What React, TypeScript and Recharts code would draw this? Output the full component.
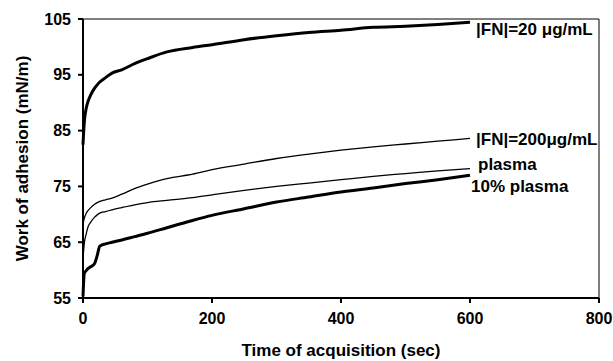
import React from "react";
import {
  LineChart,
  Line,
  XAxis,
  YAxis,
  ReferenceLine,
} from "recharts";

// time of acquisition (sec)
const times = [0, 2, 5, 8, 12, 18, 22, 26, 35, 45, 60, 80, 100, 130, 170, 200, 250, 300, 350, 400, 450, 500, 550, 600];

// work of adhesion (mN/m) for each solution
const fn20 = [82.5, 86.5, 89, 90.3, 91.4, 92.6, 93.2, 93.7, 94.5, 95.3, 95.9, 97, 97.9, 99.1, 99.9, 100.4, 101.3, 102.0, 102.6, 103.0, 103.5, 103.7, 104.0, 104.4];
const fn200 = [68.3, 69.3, 70.2, 70.7, 71.2, 71.8, 72.1, 72.3, 72.6, 72.9, 73.6, 74.6, 75.4, 76.4, 77.2, 78.0, 79.0, 80.0, 80.8, 81.5, 82.1, 82.6, 83.1, 83.6];
const plasma = [62, 64.8, 66.5, 67.8, 68.6, 69.5, 69.9, 70.2, 70.5, 70.8, 71.2, 71.7, 72.1, 72.5, 73.0, 73.5, 74.3, 75.0, 75.6, 76.2, 76.8, 77.3, 77.8, 78.2];
const plasma10 = [55.3, 59.4, 59.9, 60.3, 60.6, 61.2, 62.6, 64.3, 64.7, 65.0, 65.4, 66.0, 66.6, 67.6, 68.9, 69.8, 71.0, 72.2, 73.1, 74.0, 74.7, 75.5, 76.2, 77.0];

const seriesNames = ["|FN|=20 \u03bcg/mL", "|FN|=200\u03bcg/mL", "plasma", "10% plasma"];

const xTicks = [0, 200, 400, 600, 800];
const yTicks = [55, 65, 75, 85, 95, 105];

const data = times.map((t, i) => ({
  t,
  fn20: fn20[i],
  fn200: fn200[i],
  plasma: plasma[i],
  plasma10: plasma10[i],
}));

const font = "'Liberation Sans', Arial, sans-serif";
const last = times.length - 1;

// label drawn to the right of the final point of a line
const endLabel = (text: string, dx: number, dy: number) => (props: any) => {
  if (props.index !== last) return null;
  return (
    <text
      x={props.x + dx}
      y={props.y + dy}
      fontFamily={font}
      fontWeight="bold"
      fontSize={17}
      fill="#000"
      dominantBaseline="middle"
    >
      {text}
    </text>
  );
};

const App = () => {
  return (
    <div style={{ position: "absolute", left: 0, top: 0, background: "#fff" }}>
      <LineChart
        width={613}
        height={361}
        data={data}
        margin={{ top: 19, right: 14, left: 0, bottom: 0 }}
      >
        <XAxis
          dataKey="t"
          type="number"
          domain={[0, 800]}
          ticks={xTicks}
          height={63}
          stroke="#000"
          strokeWidth={2}
          tickSize={5}
          tickMargin={10}
          tick={{ fill: "#000", fontSize: 16, fontWeight: "bold", fontFamily: font }}
          label={{
            value: "Time of acquisition (sec)",
            position: "insideBottom",
            offset: 5,
            style: { fill: "#000", fontSize: 17, fontWeight: "bold", fontFamily: font },
          }}
        />
        <YAxis
          type="number"
          domain={[55, 105]}
          ticks={yTicks}
          width={83}
          stroke="#000"
          strokeWidth={2}
          tickSize={5}
          tickMargin={7}
          tick={{ fill: "#000", fontSize: 16, fontWeight: "bold", fontFamily: font }}
          label={{
            value: "Work of adhesion (mN/m)",
            angle: -90,
            position: "insideLeft",
            offset: 22,
            style: { fill: "#000", fontSize: 17, fontWeight: "bold", fontFamily: font, textAnchor: "middle" },
          }}
        />
        <ReferenceLine y={105} stroke="#000" strokeWidth={1} />
        <ReferenceLine x={800} stroke="#000" strokeWidth={1} />
        <Line
          type="monotone"
          dataKey="fn20"
          stroke="#000"
          strokeWidth={3}
          dot={false}
          isAnimationActive={false}
          label={endLabel(seriesNames[0], 6, 8)}
        />
        <Line
          type="monotone"
          dataKey="fn200"
          stroke="#000"
          strokeWidth={1.3}
          dot={false}
          isAnimationActive={false}
          label={endLabel(seriesNames[1], 6, 2)}
        />
        <Line
          type="monotone"
          dataKey="plasma"
          stroke="#000"
          strokeWidth={1.3}
          dot={false}
          isAnimationActive={false}
          label={endLabel(seriesNames[2], 8, -3)}
        />
        <Line
          type="monotone"
          dataKey="plasma10"
          stroke="#000"
          strokeWidth={3}
          dot={false}
          isAnimationActive={false}
          label={endLabel(seriesNames[3], 1, 12)}
        />
      </LineChart>
    </div>
  );
};

export default App;
